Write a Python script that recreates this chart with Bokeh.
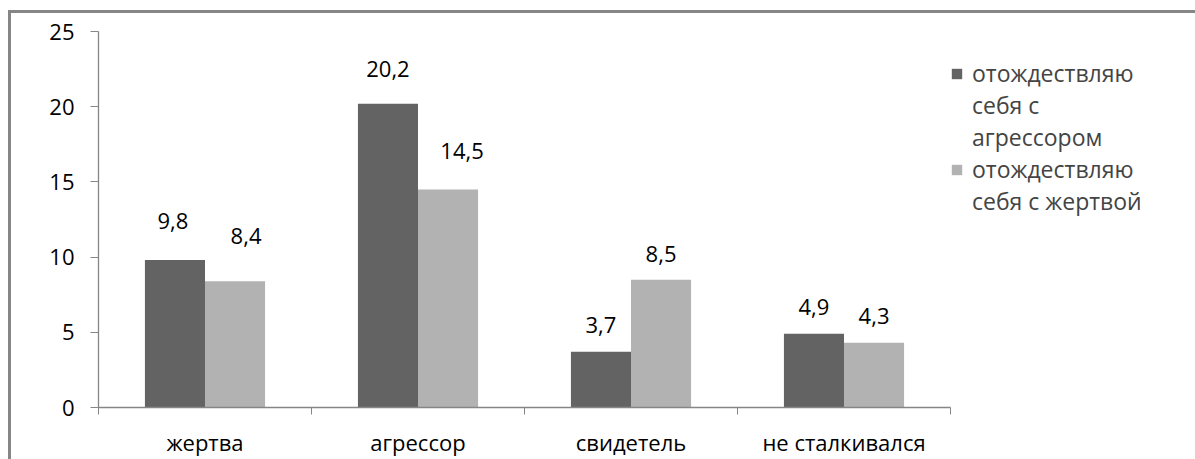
from bokeh.plotting import figure
from bokeh.models import (Range1d, FixedTicker, ColumnDataSource, Legend, LegendItem, LinearAxis)
from bokeh.transform import dodge
from bokeh.core.properties import value
from bokeh.embed import file_html
from bokeh.resources import INLINE

categories = ["жертва", "агрессор", "свидетель", "не сталкивался"]
series1_lines = ["отождествляю", "себя с", "агрессором"]
series2_lines = ["отождествляю", "себя с жертвой"]
aggressor_vals = [9.8, 20.2, 3.7, 4.9]
victim_vals = [8.4, 14.5, 8.5, 4.3]
y_ticks = [0, 5, 10, 15, 20, 25]

# label nudges in screen pixels (styling only)
agg_label_dy = [-39, -35, -27, -27]
vic_label_dy = [-45, -38, -26, -27]
agg_label_dx = [-2, 0, 0, 0]
vic_label_dx = [11, 14, 0, 0]

FONT = "Open Sans"
FS = "22px"
FS_TXT = "23px"
DARK = "#636363"
LIGHT = "#B2B2B2"
AXIS = "#868686"

xc = [i + 0.5 for i in range(len(categories))]
src = ColumnDataSource(dict(
    x=xc, agg=aggressor_vals, vic=victim_vals,
    agg_t=[str(v).replace(".", ",") for v in aggressor_vals],
    vic_t=[str(v).replace(".", ",") for v in victim_vals],
    agg_dy=agg_label_dy, vic_dy=vic_label_dy,
    agg_dx=agg_label_dx, vic_dx=vic_label_dx,
))

p = figure(frame_width=852, frame_height=376, output_backend="svg", toolbar_location=None,
           x_range=Range1d(0, len(categories)), y_range=Range1d(0, 25),
           x_axis_type=None, y_axis_type=None,
           min_border_left=87, min_border_right=245, min_border_top=18, min_border_bottom=48)
p.outline_line_color = None
p.xgrid.visible = False
p.ygrid.visible = False
p.background_fill_color = "white"
p.border_fill_color = "white"
p.styles = {"border-left": "3px solid #868686", "border-top": "3px solid #868686",
            "margin-left": "8px", "margin-top": "10px"}

bw = 0.282
r1 = p.vbar(x=dodge("x", -bw / 2, range=p.x_range), top="agg", width=bw, source=src,
            fill_color=DARK, line_color=None)
r2 = p.vbar(x=dodge("x", bw / 2, range=p.x_range), top="vic", width=bw, source=src,
            fill_color=LIGHT, line_color=None)
# invisible renderer for continuation lines of the wrapped legend labels
r_blank = p.scatter(x=[], y=[], fill_alpha=0, line_alpha=0)

p.text(x=dodge("x", -bw / 2, range=p.x_range), y="agg", text="agg_t", source=src,
       x_offset="agg_dx", y_offset="agg_dy", text_align="center", text_baseline="middle",
       text_font=value(FONT), text_font_size=FS, text_color="black")
p.text(x=dodge("x", bw / 2, range=p.x_range), y="vic", text="vic_t", source=src,
       x_offset="vic_dx", y_offset="vic_dy", text_align="center", text_baseline="middle",
       text_font=value(FONT), text_font_size=FS, text_color="black")

yax = LinearAxis(ticker=FixedTicker(ticks=y_ticks))
yax.axis_line_color = AXIS
yax.axis_line_width = 1.3
yax.major_tick_line_color = AXIS
yax.major_tick_out = 8
yax.major_tick_in = 0
yax.minor_tick_line_color = None
yax.major_label_standoff = 16
yax.major_label_text_font = FONT
yax.major_label_text_font_size = FS
yax.major_label_text_color = "black"
p.add_layout(yax, "left")

xax = LinearAxis(ticker=FixedTicker(ticks=xc, minor_ticks=list(range(len(categories) + 1))))
xax.major_label_overrides = {x: c for x, c in zip(xc, categories)}
xax.axis_line_color = AXIS
xax.axis_line_width = 1.3
xax.major_tick_line_color = None
xax.major_tick_out = 0
xax.major_tick_in = 0
xax.minor_tick_line_color = AXIS
xax.minor_tick_out = 7
xax.minor_tick_in = 0
xax.major_label_standoff = 12
xax.major_label_text_font = FONT
xax.major_label_text_font_size = "22px"
xax.major_label_text_color = "black"
p.add_layout(xax, "below")

items = []
for i, line in enumerate(series1_lines):
    items.append(LegendItem(label=line, renderers=[r1 if i == 0 else r_blank]))
for i, line in enumerate(series2_lines):
    items.append(LegendItem(label=line, renderers=[r2 if i == 0 else r_blank]))

legend = Legend(items=items, location=(0, 190))
legend.border_line_color = None
legend.background_fill_alpha = 0
legend.label_text_font = FONT
legend.label_text_font_size = FS_TXT
legend.label_height = 32
legend.glyph_width = 13
legend.glyph_height = 13
legend.spacing = 0
legend.padding = 0
legend.margin = 0
legend.label_standoff = 9
p.add_layout(legend, "right")

open("out.html", "w").write(file_html(p, INLINE))
